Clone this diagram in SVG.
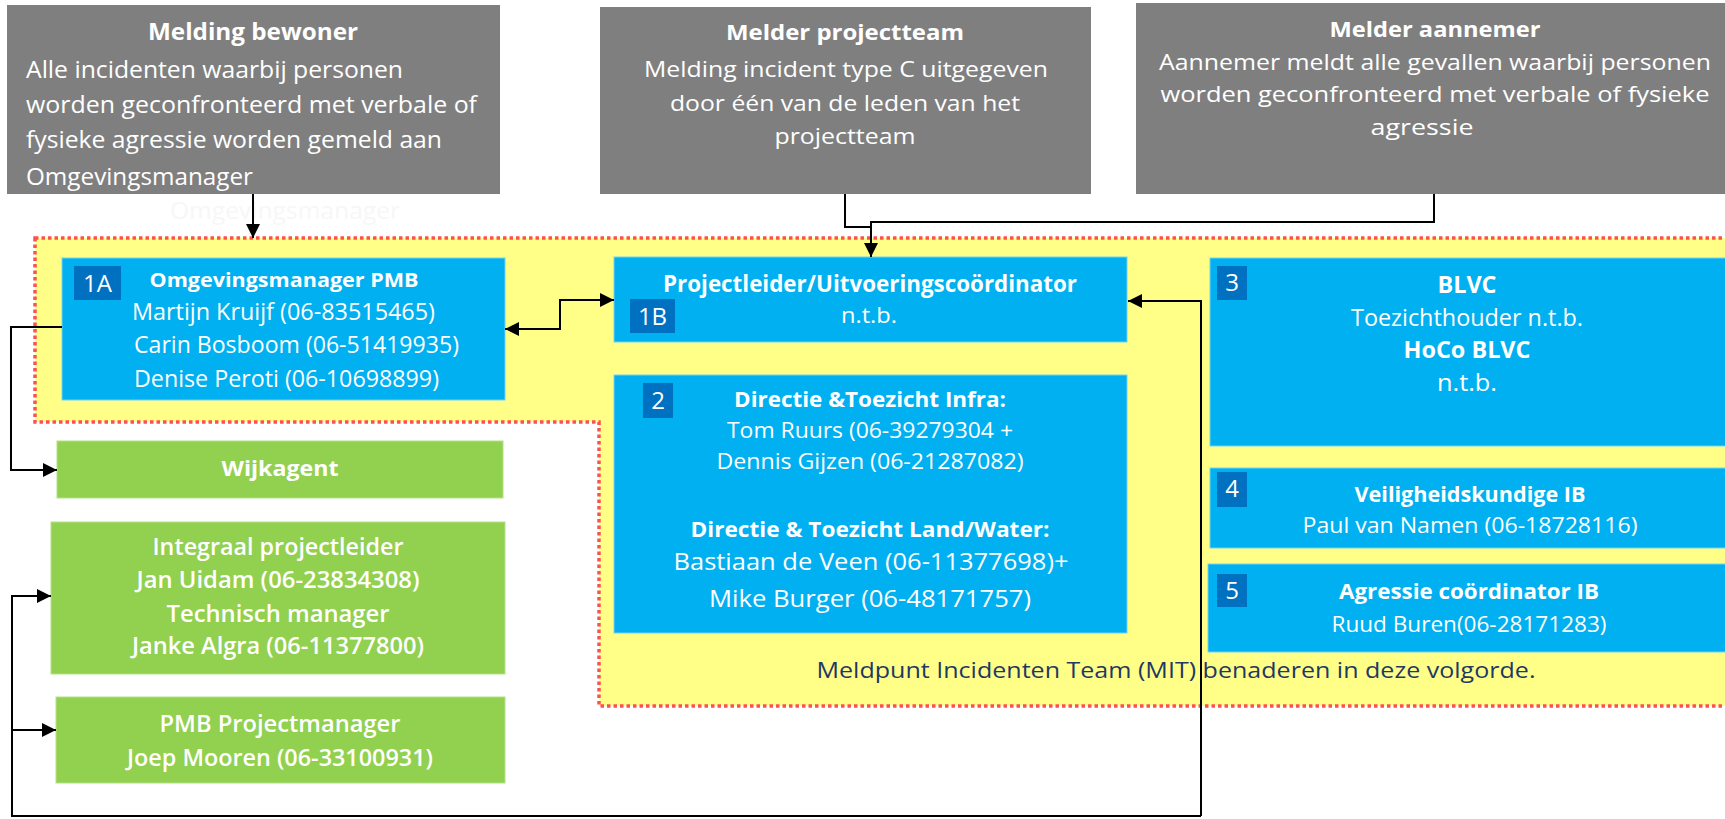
<svg xmlns="http://www.w3.org/2000/svg" width="1725" height="819" viewBox="0 0 1725 819">
<style>
text{font-family:"Open Sans","Liberation Sans",sans-serif;fill:#fff}
.b{font-weight:bold}
.sb{font-weight:600}
.gray{fill:#7f7f7f}
.blue{fill:#00b0f0;stroke:#6fd3f7;stroke-width:1}
.badge{fill:#0070c0}
.green{fill:#92d050;stroke:#b5e08a;stroke-width:1}
.c{text-anchor:middle}
.conn{fill:none;stroke:#000;stroke-width:2}
</style>
<defs>
<marker id="ah" viewBox="0 0 10 10" refX="10" refY="5" markerWidth="14" markerHeight="14" markerUnits="userSpaceOnUse" orient="auto-start-reverse"><path d="M0,0 L10,5 L0,10 z" fill="#000"/></marker>
</defs>
<rect width="1725" height="819" fill="#fff"/>

<g id="mit-area">
<polygon points="35,238 1730,238 1730,706 599,706 599,422 35,422" fill="#ffff88" stroke="#ff5050" stroke-width="3.5" stroke-dasharray="3.5 3"/>
<text x="1176" y="678" class="c" font-size="22" textLength="719" lengthAdjust="spacingAndGlyphs" style="fill:#1f3864">Meldpunt Incidenten Team (MIT) benaderen in deze volgorde.</text>
</g>

<g id="n-melding-bewoner">
<rect class="gray" x="7" y="5" width="493" height="189"/>
<text x="253" y="40" class="c b" font-size="24" textLength="210" lengthAdjust="spacingAndGlyphs">Melding bewoner</text>
<text x="26" y="78" font-size="24" textLength="377" lengthAdjust="spacingAndGlyphs">Alle incidenten waarbij personen</text>
<text x="26" y="113" font-size="24" textLength="451" lengthAdjust="spacingAndGlyphs">worden geconfronteerd met verbale of</text>
<text x="26" y="148" font-size="24" textLength="416" lengthAdjust="spacingAndGlyphs">fysieke agressie worden gemeld aan</text>
<text x="26" y="185" font-size="24" textLength="227" lengthAdjust="spacingAndGlyphs">Omgevingsmanager</text>
<text x="285" y="219" class="c" font-size="24" textLength="230" lengthAdjust="spacingAndGlyphs" style="fill:#f7f7f7">Omgevingsmanager</text>
</g>

<g id="n-melder-projectteam">
<rect class="gray" x="600" y="7" width="491" height="187"/>
<text x="845" y="40" class="c b" font-size="22" textLength="238" lengthAdjust="spacingAndGlyphs">Melder projectteam</text>
<text x="846" y="77" class="c" font-size="22" textLength="404" lengthAdjust="spacingAndGlyphs">Melding incident type C uitgegeven</text>
<text x="845" y="111" class="c" font-size="22" textLength="350" lengthAdjust="spacingAndGlyphs">door één van de leden van het</text>
<text x="845" y="144" class="c" font-size="22" textLength="141" lengthAdjust="spacingAndGlyphs">projectteam</text>
</g>

<g id="n-melder-aannemer">
<rect class="gray" x="1136" y="3" width="600" height="191"/>
<text x="1435" y="37" class="c b" font-size="21" textLength="211" lengthAdjust="spacingAndGlyphs">Melder aannemer</text>
<text x="1435" y="70" class="c" font-size="21" textLength="552" lengthAdjust="spacingAndGlyphs">Aannemer meldt alle gevallen waarbij personen</text>
<text x="1435" y="102" class="c" font-size="21" textLength="549" lengthAdjust="spacingAndGlyphs">worden geconfronteerd met verbale of fysieke</text>
<text x="1422" y="135" class="c" font-size="21" textLength="103" lengthAdjust="spacingAndGlyphs">agressie</text>
</g>

<g id="n-1a">
<rect class="blue" x="62" y="258" width="443" height="142"/>
<rect class="badge" x="74" y="266" width="47" height="34"/>
<text x="97.5" y="292" class="c" font-size="24">1A</text>
<text x="284" y="287" class="c b" font-size="20" textLength="269" lengthAdjust="spacingAndGlyphs">Omgevingsmanager PMB</text>
<text x="132" y="320" font-size="23" textLength="303" lengthAdjust="spacingAndGlyphs">Martijn Kruijf (06-83515465)</text>
<text x="134" y="353" font-size="23" textLength="325" lengthAdjust="spacingAndGlyphs">Carin Bosboom (06-51419935)</text>
<text x="134" y="387" font-size="23" textLength="305" lengthAdjust="spacingAndGlyphs">Denise Peroti (06-10698899)</text>
</g>

<g id="n-1b">
<rect class="blue" x="614" y="257" width="513" height="85"/>
<rect class="badge" x="630" y="299" width="45" height="34"/>
<text x="652.5" y="325" class="c" font-size="24">1B</text>
<text x="870" y="292" class="c b" font-size="23" textLength="414" lengthAdjust="spacingAndGlyphs">Projectleider/Uitvoeringscoördinator</text>
<text x="869" y="323" class="c" font-size="22" textLength="56" lengthAdjust="spacingAndGlyphs">n.t.b.</text>
</g>

<g id="n-2">
<rect class="blue" x="614" y="375" width="513" height="258"/>
<rect class="badge" x="643" y="383" width="30" height="35"/>
<text x="658" y="409" class="c" font-size="24">2</text>
<text x="870" y="407" class="c b" font-size="22" textLength="272" lengthAdjust="spacingAndGlyphs">Directie &amp;Toezicht Infra:</text>
<text x="870" y="438" class="c" font-size="22" textLength="286" lengthAdjust="spacingAndGlyphs">Tom Ruurs (06-39279304 +</text>
<text x="870" y="469" class="c" font-size="22" textLength="307" lengthAdjust="spacingAndGlyphs">Dennis Gijzen (06-21287082)</text>
<text x="870" y="537" class="c b" font-size="22" textLength="359" lengthAdjust="spacingAndGlyphs">Directie &amp; Toezicht Land/Water:</text>
<text x="871" y="570" class="c" font-size="24" textLength="395" lengthAdjust="spacingAndGlyphs">Bastiaan de Veen (06-11377698)+</text>
<text x="870" y="607" class="c" font-size="24" textLength="322" lengthAdjust="spacingAndGlyphs">Mike Burger (06-48171757)</text>
</g>

<g id="n-3">
<rect class="blue" x="1210" y="258" width="520" height="188"/>
<rect class="badge" x="1217" y="266" width="30" height="34"/>
<text x="1232" y="291" class="c" font-size="24">3</text>
<text x="1467" y="293" class="c b" font-size="23" textLength="59" lengthAdjust="spacingAndGlyphs">BLVC</text>
<text x="1467" y="326" class="c" font-size="23" textLength="232" lengthAdjust="spacingAndGlyphs">Toezichthouder n.t.b.</text>
<text x="1467" y="358" class="c b" font-size="23" textLength="127" lengthAdjust="spacingAndGlyphs">HoCo BLVC</text>
<text x="1467" y="391" class="c" font-size="23" textLength="60" lengthAdjust="spacingAndGlyphs">n.t.b.</text>
</g>

<g id="n-4">
<rect class="blue" x="1210" y="468" width="520" height="80"/>
<rect class="badge" x="1217" y="472" width="30" height="35"/>
<text x="1232" y="497" class="c" font-size="24">4</text>
<text x="1470" y="502" class="c b" font-size="22" textLength="231" lengthAdjust="spacingAndGlyphs">Veiligheidskundige IB</text>
<text x="1470" y="533" class="c" font-size="22" textLength="335" lengthAdjust="spacingAndGlyphs">Paul van Namen (06-18728116)</text>
</g>

<g id="n-5">
<rect class="blue" x="1208" y="564" width="522" height="88"/>
<rect class="badge" x="1217" y="574" width="30" height="33"/>
<text x="1232" y="599" class="c" font-size="24">5</text>
<text x="1469" y="599" class="c b" font-size="22" textLength="260" lengthAdjust="spacingAndGlyphs">Agressie coördinator IB</text>
<text x="1469" y="632" class="c" font-size="22" textLength="275" lengthAdjust="spacingAndGlyphs">Ruud Buren(06-28171283)</text>
</g>

<g id="n-wijkagent">
<rect class="green" x="57" y="441" width="446" height="57"/>
<text x="280" y="476" class="c b" font-size="22" textLength="117" lengthAdjust="spacingAndGlyphs">Wijkagent</text>
</g>

<g id="n-integraal">
<rect class="green" x="51" y="522" width="454" height="152"/>
<text x="278" y="555" class="c sb" font-size="23" textLength="251" lengthAdjust="spacingAndGlyphs">Integraal projectleider</text>
<text x="278" y="588" class="c sb" font-size="23" textLength="283" lengthAdjust="spacingAndGlyphs">Jan Uidam (06-23834308)</text>
<text x="278" y="622" class="c sb" font-size="23" textLength="223" lengthAdjust="spacingAndGlyphs">Technisch manager</text>
<text x="278" y="654" class="c sb" font-size="23" textLength="292" lengthAdjust="spacingAndGlyphs">Janke Algra (06-11377800)</text>
</g>

<g id="n-pmb">
<rect class="green" x="56" y="697" width="449" height="86"/>
<text x="280" y="732" class="c sb" font-size="23" textLength="241" lengthAdjust="spacingAndGlyphs">PMB Projectmanager</text>
<text x="280" y="766" class="c sb" font-size="23" textLength="306" lengthAdjust="spacingAndGlyphs">Joep Mooren (06-33100931)</text>
</g>

<g id="connectors">
<path class="conn" d="M253,194 V238" marker-end="url(#ah)"/>
<path class="conn" d="M845,194 V227 H871"/>
<path class="conn" d="M1434,194 V222 H871 V257" marker-end="url(#ah)"/>
<path class="conn" d="M62,327 H11 V470 H57" marker-end="url(#ah)"/>
<path class="conn" d="M505,329 H560 V300 H614" marker-start="url(#ah)" marker-end="url(#ah)"/>
<path class="conn" d="M1201,816 V301 H1128" marker-end="url(#ah)"/>
<path class="conn" d="M1201,816 H12 V596 H51" marker-end="url(#ah)"/>
<path class="conn" d="M12,730 H56" marker-end="url(#ah)"/>
</g>
</svg>
